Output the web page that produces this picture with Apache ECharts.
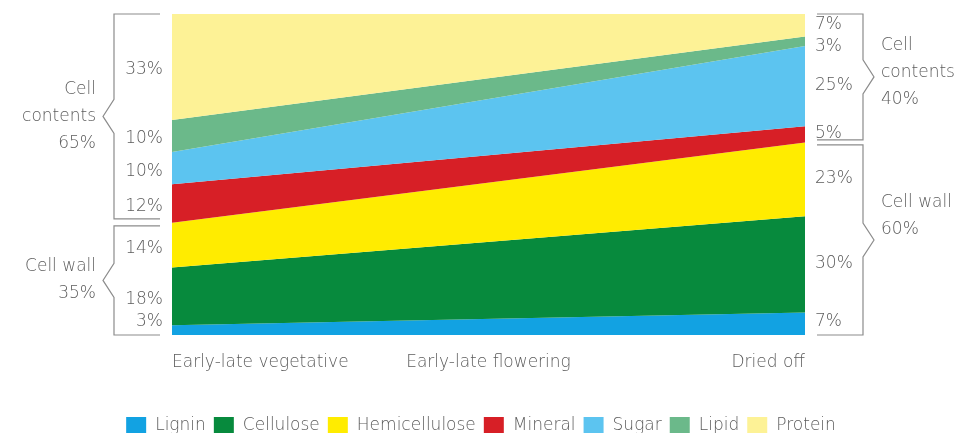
<!DOCTYPE html>
<html>
<head>
<meta charset="utf-8">
<script src="https://cdn.jsdelivr.net/npm/echarts@6/dist/echarts.min.js"></script>
<style>
  html, body { margin: 0; padding: 0; background: #fff; }
  #chart { width: 962px; height: 433px; }
</style>
</head>
<body>
<div id="chart"></div>
<script>
// stage labels along the bottom; the data only has the two ends
var stages = ['Early-late vegetative', 'Early-late flowering', 'Dried off'];
var ends = ['start', 'end'];
var components = ['Lignin', 'Cellulose', 'Hemicellulose', 'Mineral', 'Sugar', 'Lipid', 'Protein'];
var colors = ['#12a2e2', '#078a3d', '#ffec00', '#d71f26', '#5cc4f0', '#6bb98a', '#fdf296'];
// % composition at the start (vegetative) and end (dried off)
var startValues = [3, 18, 14, 12, 10, 10, 33];
var endValues = [7, 30, 23, 5, 25, 3, 7];
// group totals: first 3 = cell wall, last 4 = cell contents
var startGroups = [35, 65];
var endGroups = [60, 40];

var textColor = '#5c5c5c';
var fontFamily = 'DejaVu Sans, sans-serif';
var fontWeight = 200;
var fontSize = 17;
var chart = echarts.init(document.getElementById('chart'));

var series = components.map(function (name, i) {
    return {
        name: name,
        type: 'line',
        stack: 'total',
        symbol: 'none',
        lineStyle: { width: 0 },
        areaStyle: { color: colors[i], opacity: 1 },
        itemStyle: { color: colors[i] },
        data: [startValues[i], endValues[i]]
    };
});

chart.setOption({
    animation: false,
    textStyle: { fontFamily: fontFamily, fontWeight: fontWeight },
    grid: { left: 172, right: 157, top: 14, bottom: 98 },
    xAxis: [{
        type: 'category', data: ends, boundaryGap: false, show: false
    }, {
        // label-only axis with the three stage names
        type: 'category', data: stages, boundaryGap: false, position: 'bottom',
        axisLine: { show: false }, axisTick: { show: false }, splitLine: { show: false },
        axisLabel: {
            margin: 19, color: textColor, fontSize: fontSize, fontWeight: fontWeight,
            fontFamily: fontFamily,
            alignMinLabel: 'left', alignMaxLabel: 'right'
        }
    }],
    yAxis: { type: 'value', min: 0, max: 100, show: false },
    legend: {
        top: 412, left: 'center',
        icon: 'rect', itemWidth: 20, itemHeight: 17, itemGap: 8,
        textStyle: {
            color: textColor, fontSize: fontSize, fontWeight: fontWeight,
            fontFamily: fontFamily, padding: [0, 0, 0, 4]
        },
        data: components
    },
    series: series
});

// annotations: percentage labels and group brackets, placed from the data
function px(x, y) { return chart.convertToPixel({ xAxisIndex: 0, yAxisIndex: 0 }, [x, y]); }

var graphics = [];
var lineStyle = { stroke: '#8c8c8c', lineWidth: 1.2, fill: null };

function textStyle(text, align, extra) {
    var s = {
        text: text, fill: textColor, fontSize: fontSize, fontFamily: fontFamily,
        fontWeight: fontWeight, align: align, verticalAlign: 'middle'
    };
    for (var k in extra) s[k] = extra[k];
    return s;
}

function addPercentLabels(values, xIdx, side, shift) {
    var bottom = px(xIdx, 0)[1];
    var cum = 0;
    var ys = values.map(function (v) {
        var mid = px(xIdx, cum + v / 2);
        cum += v;
        return mid;
    });
    // keep neighbouring labels apart, working down from the top
    var pos = ys.map(function (p) { return p[1] + shift; });
    for (var i = pos.length - 2; i >= 0; i--) {
        if (pos[i] - pos[i + 1] < 22) pos[i] = pos[i + 1] + 22;
    }
    pos = pos.map(function (y) { return Math.min(y, bottom - 13); });
    values.forEach(function (v, i) {
        graphics.push({
            type: 'text',
            x: side === 'left' ? ys[i][0] - 9 : ys[i][0] + 10,
            y: pos[i],
            style: textStyle(v + '%', side === 'left' ? 'right' : 'left')
        });
    });
}

function addBracket(y0, y1, xIdx, side, label, yShift) {
    var top = px(xIdx, y1)[1];
    var bot = px(xIdx, y0)[1];
    var edge = px(xIdx, 0)[0];
    var dir = side === 'left' ? -1 : 1;
    var vx = edge + dir * 58;      // vertical line
    var hx = edge + dir * 12;      // inner end of the horizontal ticks
    var tip = vx + dir * 11;
    var mid = (top + bot) / 2;
    graphics.push({
        type: 'polyline',
        shape: {
            points: [[hx, top], [vx, top], [vx, mid - 17], [tip, mid], [vx, mid + 17], [vx, bot], [hx, bot]]
        },
        style: lineStyle
    });
    graphics.push({
        type: 'text',
        x: tip + dir * 7,
        y: mid + (yShift || 0),
        style: textStyle(label, side === 'left' ? 'right' : 'left', { lineHeight: 27 })
    });
}

addPercentLabels(startValues, 0, 'left', 3);
addPercentLabels(endValues, 1, 'right', -1);

// left brackets (start): wall = 0..35, contents = 35..100
addBracket(0, startGroups[0] - 1, 0, 'left', 'Cell wall\n' + startGroups[0] + '%', 0);
addBracket(startGroups[0] + 1.2, 100, 0, 'left', 'Cell\ncontents\n' + startGroups[1] + '%', 0);
// right brackets (end)
addBracket(0, endGroups[0] - 0.8, 1, 'right', 'Cell wall\n' + endGroups[0] + '%', -24);
addBracket(endGroups[0] + 0.8, 100, 1, 'right', 'Cell\ncontents\n' + endGroups[1] + '%', -4);

chart.setOption({ graphic: graphics });
</script>
</body>
</html>
